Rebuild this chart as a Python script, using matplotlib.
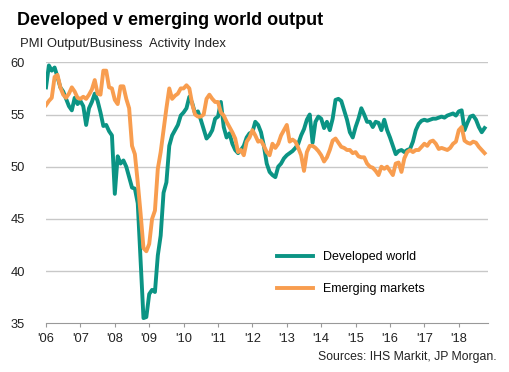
import numpy as np
import matplotlib
matplotlib.use("Agg")
import matplotlib.pyplot as plt

plt.rcParams['font.family'] = ['Liberation Sans', 'DejaVu Sans']

# monthly PMI readings, Jan 2006 - Oct 2018
developed = [
    57.6, 59.7, 59.2, 59.5, 58.6, 57.6, 57.2, 56.5, 55.8, 55.4, 56.6, 56.0,  # 2006
    56.3, 55.8, 54.0, 55.6, 56.2, 57.0, 56.3, 55.2, 53.9, 54.0, 53.4, 53.0,  # 2007
    47.4, 51.0, 50.3, 50.6, 50.0, 49.0, 48.0, 47.9, 46.5, 41.0, 35.5, 35.6,  # 2008
    37.8, 38.2, 38.0, 41.5, 43.4, 47.5, 48.5, 52.0, 53.0, 53.5, 54.0, 54.9,  # 2009
    55.2, 55.6, 56.7, 56.1, 55.1, 55.3, 54.5, 53.6, 52.7, 53.0, 53.5, 54.6,  # 2010
    54.8, 56.2, 53.8, 52.8, 53.2, 52.2, 51.6, 51.3, 51.6, 52.0, 52.8, 53.2,  # 2011
    53.3, 54.3, 54.0, 53.3, 52.0, 50.3, 49.5, 49.2, 49.0, 50.0, 50.3, 50.8,  # 2012
    51.1, 51.3, 51.5, 51.8, 52.2, 53.0, 53.6, 54.5, 55.0, 52.3, 54.3, 54.8,  # 2013
    54.6, 53.7, 54.3, 53.5, 54.6, 56.4, 56.5, 56.3, 55.4, 54.5, 53.3, 52.8,  # 2014
    53.8, 54.6, 55.6, 55.0, 54.3, 54.3, 53.8, 54.3, 54.2, 53.5, 54.5, 53.5,  # 2015
    52.8, 52.0, 51.2, 51.5, 51.6, 51.4, 51.6, 51.7, 52.4, 53.5, 54.1, 54.4,  # 2016
    54.5, 54.4, 54.5, 54.6, 54.6, 54.7, 54.8, 54.7, 54.9, 55.0, 55.1, 54.9,  # 2017
    55.3, 55.4, 53.5, 54.2, 54.8, 54.9, 54.5, 53.8, 53.3, 53.7,              # 2018
]
emerging = [
    55.9, 56.3, 56.6, 58.6, 58.8, 57.6, 56.9, 56.6, 57.0, 57.6, 57.2, 56.6,  # 2006
    56.5, 56.7, 56.5, 56.9, 57.4, 58.3, 57.0, 56.9, 59.2, 59.2, 57.6, 57.5,  # 2007
    56.4, 56.0, 57.7, 57.7, 56.5, 55.6, 52.0, 51.2, 48.5, 45.5, 42.2, 41.9,  # 2008
    42.6, 45.0, 45.8, 49.8, 51.4, 53.5, 55.6, 57.5, 56.5, 56.8, 57.0, 57.5,  # 2009
    57.5, 57.8, 57.5, 56.0, 55.0, 54.8, 54.8, 55.0, 56.5, 56.9, 56.5, 56.2,  # 2010
    56.2, 55.2, 54.9, 54.3, 53.8, 53.3, 52.7, 51.4, 51.6, 51.1, 52.4, 52.8,  # 2011
    53.5, 53.0, 52.4, 52.5, 52.0, 51.4, 51.1, 52.2, 51.8, 52.2, 53.0, 53.5,  # 2012
    54.0, 52.4, 52.6, 52.4, 51.8, 51.1, 49.6, 51.4, 52.0, 52.0, 51.8, 51.5,  # 2013
    51.1, 50.5, 50.9, 51.6, 52.5, 52.7, 52.3, 51.9, 51.8, 51.6, 51.6, 51.3,  # 2014
    51.4, 51.0, 50.9, 50.9, 50.3, 50.0, 49.9, 49.6, 49.2, 50.0, 49.8, 50.0,  # 2015
    49.6, 49.2, 50.3, 50.4, 49.5, 50.8, 51.4, 51.6, 51.4, 51.6, 51.6, 51.9,  # 2016
    52.2, 52.0, 52.4, 52.5, 52.2, 51.7, 51.8, 51.7, 51.6, 51.8, 52.2, 52.4,  # 2017
    53.5, 53.8, 52.5, 52.3, 52.2, 52.4, 52.3, 51.9, 51.6, 51.3,              # 2018
]
years = list(range(2006, 2019))
year_labels = ["'%02d" % (y % 100) for y in years]
y_ticks = [35, 40, 45, 50, 55, 60]

teal = '#0b9484'
orange = '#f89d4f'

t = 2006 + np.arange(len(developed)) / 12.0

fig = plt.figure(figsize=(5.09, 3.72), dpi=100)
ax = fig.add_axes([0.0904, 0.1309, 0.8684, 0.7016])

ax.plot(t, developed, color=teal, lw=2.8, solid_joinstyle='round', label='Developed world')
ax.plot(t, emerging, color=orange, lw=2.8, solid_joinstyle='round', label='Emerging markets')

ax.set_xlim(2006, 2006 + 154.2 / 12)
ax.set_ylim(35, 60)
ax.set_yticks(y_ticks)
ax.set_xticks(years)
ax.set_xticklabels(year_labels)
ax.tick_params(axis='y', length=0, pad=15, labelsize=9.3, colors='#222222')
ax.tick_params(axis='x', length=3, width=0.8, color='#999999', pad=4,
               labelsize=9.3, labelcolor='#222222')
for v in y_ticks[1:]:
    ax.axhline(v, color='#c8c8c8', lw=1, zorder=0)
for s in ['top', 'right', 'left']:
    ax.spines[s].set_visible(False)
ax.spines['bottom'].set_color('#999999')
ax.spines['bottom'].set_linewidth(0.8)

leg = ax.legend(loc='upper left', bbox_to_anchor=(0.497, 0.32), frameon=False,
                fontsize=9, handlelength=2.9, handletextpad=0.8, labelspacing=1.6)

fig.text(0.033, 0.945, 'Developed v emerging world output', fontsize=13,
         fontweight='bold', va='center', ha='left')
fig.text(0.040, 0.883, 'PMI Output/Business  Activity Index', fontsize=9.4,
         va='center', ha='left', color='#222222')
fig.text(0.976, 0.040, 'Sources: IHS Markit, JP Morgan.', fontsize=8.8,
         va='center', ha='right', color='#222222')

fig.savefig('out.png', dpi=100)
